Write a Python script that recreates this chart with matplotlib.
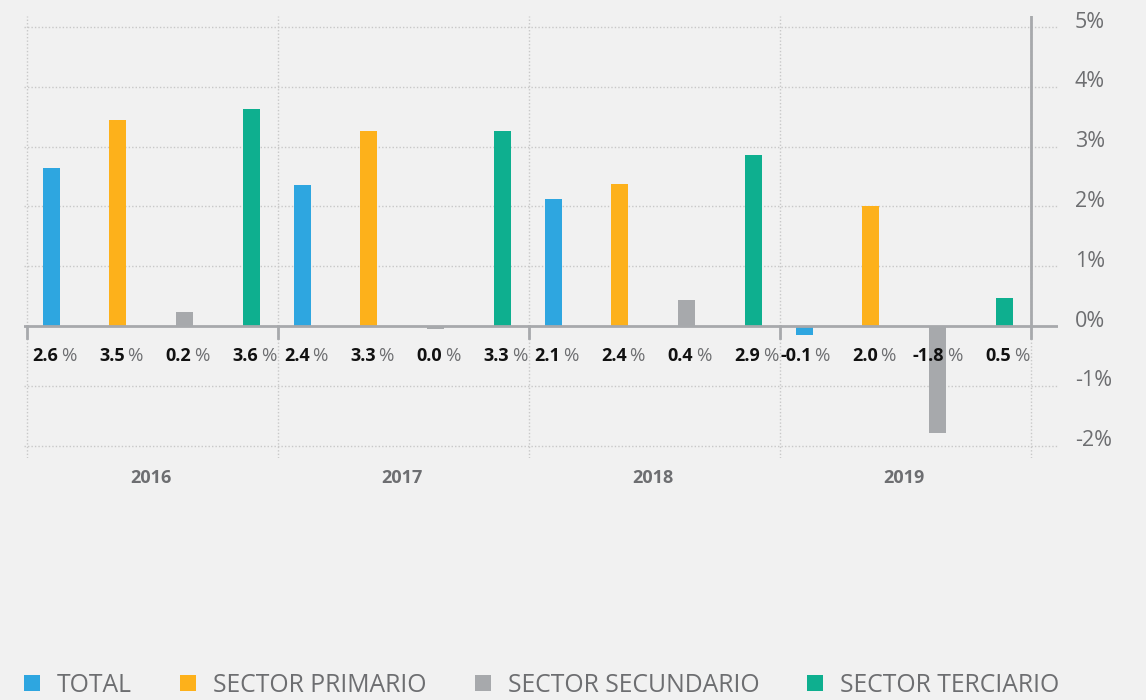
import numpy as np
import matplotlib.pyplot as plt
from matplotlib.patches import Patch

plt.rcParams['font.family'] = ['Open Sans', 'DejaVu Sans']

#%%# data
years = ["2016", "2017", "2018", "2019"]
series = ["TOTAL", "SECTOR PRIMARIO", "SECTOR SECUNDARIO", "SECTOR TERCIARIO"]
total = [2.64, 2.36, 2.12, -0.15]
primario = [3.44, 3.26, 2.37, 2.00]
secundario = [0.23, -0.05, 0.43, -1.79]
terciario = [3.63, 3.26, 2.86, 0.47]
lab_total = ["2.6", "2.4", "2.1", "-0.1"]
lab_primario = ["3.5", "3.3", "2.4", "2.0"]
lab_secundario = ["0.2", "0.0", "0.4", "-1.8"]
lab_terciario = ["3.6", "3.3", "2.9", "0.5"]
yticks = [-2, -1, 0, 1, 2, 3, 4, 5]

colors = ["#2EA6E0", "#FDB11B", "#A7A9AC", "#0EAF8F"]
values = [total, primario, secundario, terciario]
labels = [lab_total, lab_primario, lab_secundario, lab_terciario]

bg = "#F1F1F1"
axgray = "#A7A9AC"
txtgray = "#6D6E71"

#%%# figure / axes
W, H = 1146, 700
fig = plt.figure(figsize=(W/100, H/100), dpi=100, facecolor=bg)
# axes spans 24..1058 px horizontally, 16..458 px vertically
ax = fig.add_axes([24/W, (H-458)/H, (1058-24)/W, (458-16)/H])
ax.set_facecolor(bg)
ax.set_xlim(-3/251, (1058-27)/251)
ax.set_ylim(-(458-326)/59.8, (326-16)/59.8)
for s in ax.spines.values():
    s.set_visible(False)
ax.set_xticks([])
ax.set_yticks([])

# grid
for t in yticks:
    if t != 0:
        ax.axhline(t, color="#C8C8C8", lw=1, ls=(0, (1, 1.5)), zorder=0)
for i in range(5):
    ax.axvline(i, color="#C8C8C8", lw=1, ls=(0, (1, 1.5)), zorder=0)
ax.axhline(0, color=axgray, lw=2, zorder=3)
ax.plot([4, 4], [-0.2, ax.get_ylim()[1]], color=axgray, lw=2, zorder=3)
for i in range(4):
    ax.plot([i, i], [-0.2, 0], color=axgray, lw=2, zorder=3)

#%%# bars
offsets = [0.098, 0.362, 0.627, 0.893]
x = np.arange(len(years))
for k in range(4):
    ax.bar(x + offsets[k], values[k], width=0.068, color=colors[k], zorder=2)
    for i in range(len(years)):
        ax.annotate(labels[k][i], (x[i] + offsets[k], -0.5), xytext=(5, 0),
                    textcoords="offset points", ha="right", va="center",
                    fontsize=13, fontweight="bold", color="#111111",
                    annotation_clip=False, zorder=4)
        ax.annotate("%", (x[i] + offsets[k], -0.5), xytext=(7, 0),
                    textcoords="offset points", ha="left", va="center",
                    fontsize=13.5, color=txtgray, annotation_clip=False, zorder=4)

# year labels
for i, yr in enumerate(years):
    ax.text(i + 0.5 - 0.008, -(478-326)/59.8, yr, ha="center", va="center",
            fontsize=13, fontweight="bold", color=txtgray, clip_on=False)

# right axis labels (sit slightly above their grid lines)
for t in yticks:
    ax.annotate(f"{t}%", (1, t), xycoords=("axes fraction", "data"),
                xytext=(12, 3.5), textcoords="offset points",
                ha="left", va="center", fontsize=15.5, color=txtgray,
                annotation_clip=False)

#%%# legend
handles = [Patch(facecolor=c, edgecolor="none") for c in colors]
leg = fig.legend(handles, series, loc="center left",
                 bbox_to_anchor=(24/W, 1-685/H), ncol=4, frameon=False,
                 fontsize=17.8, handlelength=0.65, handleheight=0.65,
                 handletextpad=0.68, columnspacing=1.95, borderpad=0,
                 borderaxespad=0)
for t in leg.get_texts():
    t.set_color(txtgray)

fig.savefig("out.png", dpi=100, facecolor=bg)
